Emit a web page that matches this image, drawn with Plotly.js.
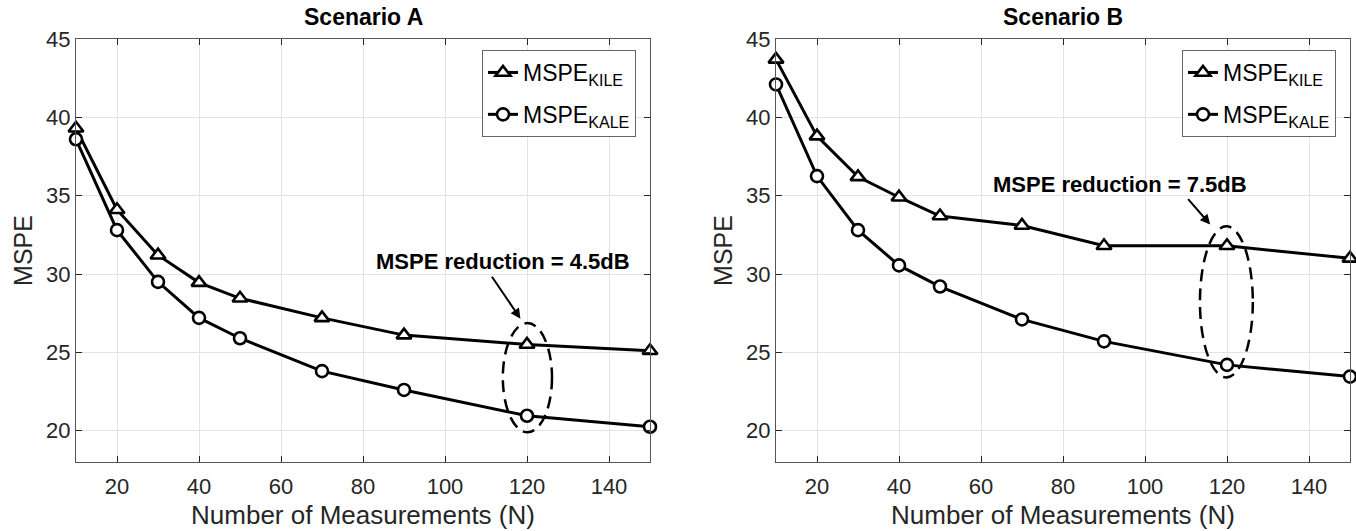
<!DOCTYPE html>
<html>
<head>
<meta charset="utf-8">
<script src="https://cdn.plot.ly/plotly-3.0.1.min.js"></script>
<style>html,body{margin:0;padding:0;background:#fff;}#chart{width:1356px;height:531px;}</style>
</head>
<body>
<div id="chart"></div>
<script>
// Data
const N = [10, 20, 30, 40, 50, 70, 90, 120, 150];
const kileA = [39.3, 34.1, 31.2, 29.45, 28.45, 27.2, 26.1, 25.5, 25.1];
const kaleA = [38.6, 32.8, 29.5, 27.2, 25.9, 23.8, 22.6, 20.95, 20.25];
const kileB = [43.7, 38.8, 36.2, 34.9, 33.7, 33.1, 31.8, 31.8, 31.0];
const kaleB = [42.1, 36.25, 32.8, 30.55, 29.2, 27.1, 25.7, 24.2, 23.45];
const seriesNames = ['MSPE<sub>KILE</sub>', 'MSPE<sub>KALE</sub>'];
const titles = ['Scenario A', 'Scenario B'];
const notes = ['MSPE reduction = 4.5dB', 'MSPE reduction = 7.5dB'];
const xTicks = [20, 40, 60, 80, 100, 120, 140];
const yTicks = [20, 25, 30, 35, 40, 45];

const FONT = '"Liberation Sans", Arial, Helvetica, sans-serif';
const INK = '#262626';

function mk(x, y, name, sym, xa, ya, leg, grp) {
  return {
    x: x, y: y, name: name, type: 'scatter', mode: 'lines+markers',
    xaxis: xa, yaxis: ya, legend: leg, legendgroup: grp,
    line: {color: '#000', width: 3},
    marker: {symbol: sym, size: sym === 'circle' ? 12 : 13, color: '#fff', line: {color: '#000', width: 2.6}},
    cliponaxis: false
  };
}

const traces = [
  mk(N, kileA, seriesNames[0], 'triangle-up', 'x', 'y', 'legend', 'a1'),
  mk(N, kaleA, seriesNames[1], 'circle', 'x', 'y', 'legend', 'a2'),
  mk(N, kileB, seriesNames[0], 'triangle-up', 'x2', 'y2', 'legend2', 'b1'),
  mk(N, kaleB, seriesNames[1], 'circle', 'x2', 'y2', 'legend2', 'b2')
];

const W = 1356, H = 531;
const yDom = [(H - 462) / H, (H - 39) / H];

function xax(dom, anchor) {
  return {
    domain: dom, anchor: anchor, range: [10, 150], tickvals: xTicks,
    ticks: 'inside', ticklen: 6, tickcolor: INK, tickwidth: 1,
    showline: true, linecolor: '#555', linewidth: 1, mirror: 'ticks',
    showgrid: true, gridcolor: '#e3e3e3', gridwidth: 1, zeroline: false,
    tickfont: {family: FONT, size: 22, color: INK}, ticklabelstandoff: 5,
    title: {text: 'Number of Measurements (N)', font: {family: FONT, size: 26, color: INK}, standoff: 7},
    automargin: false, fixedrange: true
  };
}
function yax(anchor) {
  return {
    domain: yDom, anchor: anchor, range: [18, 45], tickvals: yTicks,
    ticks: 'inside', ticklen: 6, tickcolor: INK, tickwidth: 1,
    showline: true, linecolor: '#555', linewidth: 1, mirror: 'ticks',
    showgrid: true, gridcolor: '#e3e3e3', gridwidth: 1, zeroline: false,
    tickfont: {family: FONT, size: 22, color: INK},
    title: {text: 'MSPE', font: {family: FONT, size: 25, color: INK}, standoff: 6},
    automargin: false, fixedrange: true
  };
}

function legendCfg(xr) {
  return {
    x: xr, xanchor: 'right', y: (H - 50) / H, yanchor: 'top',
    xref: 'paper', yref: 'paper',
    bgcolor: '#fff', bordercolor: '#666', borderwidth: 1,
    font: {family: FONT, size: 23, color: '#000'},
    itemwidth: 30, tracegroupgap: 9, traceorder: 'grouped'
  };
}

const layout = {
  width: W, height: H,
  margin: {l: 0, r: 0, t: 0, b: 0},
  paper_bgcolor: '#fff', plot_bgcolor: '#fff',
  showlegend: true,
  xaxis: xax([76 / W, 650 / W], 'y'),
  yaxis: yax('x'),
  xaxis2: xax([776 / W, 1350 / W], 'y2'),
  yaxis2: yax('x2'),
  legend: legendCfg(636 / W),
  legend2: legendCfg(1336 / W),
  annotations: [
    {text: '<b>' + titles[0] + '</b>', xref: 'paper', yref: 'paper', x: 363 / W, y: (H - 17) / H,
     xanchor: 'center', yanchor: 'middle', showarrow: false, font: {family: FONT, size: 23, color: '#000'}},
    {text: '<b>' + titles[1] + '</b>', xref: 'paper', yref: 'paper', x: 1063 / W, y: (H - 17) / H,
     xanchor: 'center', yanchor: 'middle', showarrow: false, font: {family: FONT, size: 23, color: '#000'}},
    {text: '<b>' + notes[0] + '</b>', xref: 'x', yref: 'y', x: 114.1, y: 30.77, showarrow: false,
     xanchor: 'center', yanchor: 'middle', font: {family: FONT, size: 22, color: '#000'}},
    {text: '<b>' + notes[1] + '</b>', xref: 'x2', yref: 'y2', x: 94.0, y: 35.72, showarrow: false,
     xanchor: 'center', yanchor: 'middle', font: {family: FONT, size: 22, color: '#000'}},
    {text: '', xref: 'x', yref: 'y', x: 118.4, y: 27.15, axref: 'x', ayref: 'y', ax: 111.2, ay: 29.92,
     showarrow: true, arrowhead: 2, arrowsize: 1, arrowwidth: 2, arrowcolor: '#000'},
    {text: '', xref: 'x2', yref: 'y2', x: 115.9, y: 33.16, axref: 'x2', ayref: 'y2', ax: 110.2, ay: 34.87,
     showarrow: true, arrowhead: 2, arrowsize: 1, arrowwidth: 2, arrowcolor: '#000'}
  ],
  shapes: [
    {type: 'circle', xref: 'x', yref: 'y', x0: 114.1, x1: 126.1, y0: 19.9, y1: 26.87,
     line: {color: '#000', width: 2.5, dash: '12px,7px'}, layer: 'above'},
    {type: 'circle', xref: 'x2', yref: 'y2', x0: 113.4, x1: 126.3, y0: 23.4, y1: 33.04,
     line: {color: '#000', width: 2.5, dash: '12px,7px'}, layer: 'above'}
  ]
};

Plotly.newPlot('chart', traces, layout, {displayModeBar: false, staticPlot: true});
</script>
</body>
</html>
